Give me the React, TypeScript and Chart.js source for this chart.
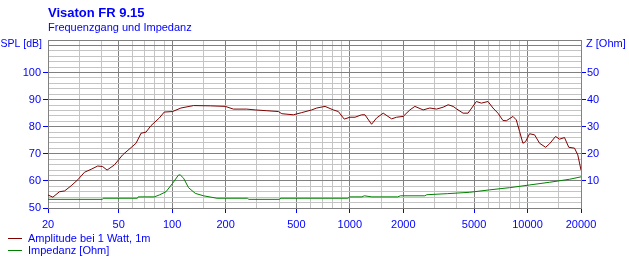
import React, { useEffect, useRef } from "react";
import { Chart, registerables } from "chart.js";

Chart.register(...registerables);

const TITLE = "Visaton FR 9.15";
const SUBTITLE = "Frequenzgang und Impedanz";
const LEFT_TITLE = "SPL [dB]";
const RIGHT_TITLE = "Z [Ohm]";
const SPL_LABEL = "Amplitude bei 1 Watt, 1m";
const Z_LABEL = "Impedanz [Ohm]";

const splFreq = [20, 21.3, 23.2, 24.8, 27, 29.4, 32.1, 35, 38.1, 40.6, 43, 47.3, 52.6, 58.7, 62.6, 66.8, 71.2, 76, 84.6, 90.2, 100.5, 112, 132, 164, 199, 221, 263, 293, 341, 396, 414, 481, 536, 610, 651, 725, 807, 861, 930, 1000, 1069, 1165, 1216, 1325, 1413, 1541, 1718, 1833, 1996, 2177, 2323, 2585, 2820, 3075, 3350, 3575, 3812, 3982, 4337, 4625, 5153, 5497, 5991, 6390, 6816, 7273, 7603, 8282, 8650, 9025, 9419, 9750, 10270, 10960, 11690, 12640, 13310, 14380, 15150, 16150, 17070, 18380, 19190, 20000];
const splDb = [54.8, 54.0, 56.0, 56.3, 58.2, 60.4, 63.2, 64.3, 65.5, 65.3, 64.0, 65.9, 69.6, 72.3, 73.9, 77.6, 78.0, 80.4, 83.2, 85.4, 85.6, 86.9, 87.8, 87.7, 87.5, 86.5, 86.5, 86.2, 85.9, 85.6, 84.8, 84.4, 85.2, 86.2, 86.9, 87.5, 86.2, 85.6, 82.8, 83.5, 83.5, 84.4, 84.4, 80.9, 83.2, 85.0, 82.9, 83.5, 83.8, 86.2, 87.5, 86.2, 86.9, 86.5, 87.2, 88.1, 87.5, 86.6, 85.0, 85.0, 89.3, 88.7, 89.3, 86.9, 85.0, 82.3, 82.2, 83.8, 82.5, 78.2, 73.9, 74.5, 77.4, 77.0, 73.9, 72.4, 73.7, 76.4, 75.4, 76.0, 72.4, 72.1, 69.6, 64.0];

const zFreq = [20, 40.5, 40.9, 63.7, 64.3, 79.3, 84.6, 92.3, 100.5, 108.6, 111, 115.9, 123.6, 134.9, 150, 178.6, 265, 270, 400, 410, 975, 1000, 1170, 1205, 1330, 1860, 1925, 2642, 2711, 3557, 4730, 6125, 7925, 10270, 13310, 17230, 20000];
const zOhm = [3.2, 3.2, 3.6, 3.6, 4.1, 4.1, 4.8, 6.0, 9.1, 12.2, 12.2, 11.0, 7.5, 5.4, 4.5, 3.6, 3.6, 3.2, 3.2, 3.6, 3.6, 4.1, 4.1, 4.5, 4.1, 4.1, 4.5, 4.5, 4.9, 5.3, 5.8, 6.7, 7.5, 8.5, 9.5, 10.6, 11.5];

const xGridValues = [20, 30, 40, 50, 60, 70, 80, 90, 100, 150, 200, 300, 400, 500, 600, 700, 800, 900, 1000, 1500, 2000, 3000, 4000, 5000, 6000, 7000, 8000, 9000, 10000, 15000, 20000];
const xLabelValues = [20, 50, 100, 200, 500, 1000, 2000, 5000, 10000, 20000];
const splLabelValues = [50, 60, 70, 80, 90, 100];
const zLabelValues = [10, 20, 30, 40, 50];

const SPL_MIN = 50;
const SPL_MAX = 112;
const Z_MIN = 0;
const Z_MAX = 62;

const BLUE = "#0000ff";
const DARK = "#808080";
const LIGHT = "#c4c4c4";
const SPL_COLOR = "#800000";
const Z_COLOR = "#008000";
const FONT = '"Liberation Sans", Arial, sans-serif';

function range(a: number, b: number, s: number) {
  const out: number[] = [];
  for (let v = a; v <= b + 1e-9; v += s) out.push(v);
  return out;
}

const textPlugin = {
  id: "texts",
  afterDraw(chart: any) {
    const ctx = chart.ctx;
    ctx.save();
    ctx.fillStyle = BLUE;
    ctx.textBaseline = "alphabetic";
    ctx.textAlign = "left";
    ctx.font = `bold 13px ${FONT}`;
    ctx.fillText(TITLE, 48, 17);
    ctx.font = `11px ${FONT}`;
    ctx.fillText(SUBTITLE, 48, 31);
    ctx.fillText(RIGHT_TITLE, 586, 47);
    ctx.font = `10.5px ${FONT}`;
    ctx.textAlign = "right";
    ctx.fillText(LEFT_TITLE, 42, 47);
    ctx.textAlign = "left";
    ctx.font = `11px ${FONT}`;
    const items = [
      { label: SPL_LABEL, color: SPL_COLOR, y: 238 },
      { label: Z_LABEL, color: Z_COLOR, y: 250 },
    ];
    for (const it of items) {
      ctx.strokeStyle = it.color;
      ctx.lineWidth = 1;
      ctx.beginPath();
      ctx.moveTo(8, it.y + 0.5);
      ctx.lineTo(22, it.y + 0.5);
      ctx.stroke();
      ctx.fillStyle = BLUE;
      ctx.fillText(it.label, 28, it.y + 4);
    }
    ctx.restore();
  },
};

export default function App() {
  const ref = useRef<HTMLCanvasElement | null>(null);
  useEffect(() => {
    if (!ref.current) return;
    const chart = new Chart(ref.current, {
      type: "line",
      data: {
        datasets: [
          {
            label: SPL_LABEL,
            data: splFreq.map((f, i) => ({ x: f, y: splDb[i] })),
            borderColor: SPL_COLOR,
            borderWidth: 1,
            pointRadius: 0,
            yAxisID: "y",
            tension: 0,
          },
          {
            label: Z_LABEL,
            data: zFreq.map((f, i) => ({ x: f, y: zOhm[i] })),
            borderColor: Z_COLOR,
            borderWidth: 1,
            pointRadius: 0,
            yAxisID: "y2",
            tension: 0,
          },
        ],
      },
      options: {
        animation: false,
        responsive: false,
        devicePixelRatio: 1,
        layout: { padding: { left: 0, right: 0, top: 40, bottom: 0 } },
        plugins: { legend: { display: false }, tooltip: { enabled: false }, title: { display: false } },
        scales: {
          x: {
            type: "logarithmic",
            min: 20,
            max: 20000,
            afterBuildTicks: (s: any) => {
              s.ticks = xGridValues.map((v) => ({ value: v }));
            },
            afterFit: (s: any) => {
              s.height = 65;
            },
            border: { color: DARK },
            grid: {
              color: (c: any) => {
                const v = c.tick ? c.tick.value : 0;
                return xLabelValues.includes(v) ? DARK : LIGHT;
              },
              tickColor: (c: any) => {
                const v = c.tick ? c.tick.value : 0;
                return xLabelValues.includes(v) ? BLUE : "rgba(0,0,0,0)";
              },
              tickLength: 5,
            },
            ticks: {
              autoSkip: false,
              maxRotation: 0,
              color: BLUE,
              padding: 5,
              font: { family: FONT, size: 11 },
              callback: (v: any) => (xLabelValues.includes(Number(v)) ? String(v) : ""),
            },
          },
          y: {
            type: "linear",
            position: "left",
            min: SPL_MIN,
            max: SPL_MAX,
            afterBuildTicks: (s: any) => {
              s.ticks = range(SPL_MIN, SPL_MAX, 2).map((v) => ({ value: v }));
            },
            afterFit: (s: any) => {
              s.width = 48;
            },
            border: { color: DARK },
            grid: {
              color: (c: any) => {
                const v = c.tick ? c.tick.value : 0;
                return v % 10 === 0 || v === SPL_MAX ? DARK : LIGHT;
              },
              tickColor: (c: any) => {
                const v = c.tick ? c.tick.value : 0;
                return splLabelValues.includes(v) ? BLUE : "rgba(0,0,0,0)";
              },
              tickLength: 5,
            },
            ticks: {
              autoSkip: false,
              color: BLUE,
              padding: 2,
              font: { family: FONT, size: 11 },
              callback: (v: any) => (splLabelValues.includes(Number(v)) ? String(v) : ""),
            },
          },
          y2: {
            type: "linear",
            position: "right",
            min: Z_MIN,
            max: Z_MAX,
            afterBuildTicks: (s: any) => {
              s.ticks = range(Z_MIN, Z_MAX, 2).map((v) => ({ value: v }));
            },
            afterFit: (s: any) => {
              s.width = 48;
            },
            border: { color: DARK },
            grid: {
              drawOnChartArea: false,
              color: "rgba(0,0,0,0)",
              tickColor: (c: any) => {
                const v = c.tick ? c.tick.value : 0;
                return zLabelValues.includes(v) ? BLUE : "rgba(0,0,0,0)";
              },
              tickLength: 5,
            },
            ticks: {
              autoSkip: false,
              color: BLUE,
              padding: 1,
              font: { family: FONT, size: 11 },
              callback: (v: any) => (zLabelValues.includes(Number(v)) ? String(v) : ""),
            },
          },
        },
      } as any,
      plugins: [textPlugin],
    });
    return () => chart.destroy();
  }, []);
  return (
    <div style={{ position: "absolute", left: 0, top: 0, width: 629, height: 273, background: "#fff" }}>
      <canvas ref={ref} width={629} height={273} style={{ width: 629, height: 273, display: "block" }} />
    </div>
  );
}
